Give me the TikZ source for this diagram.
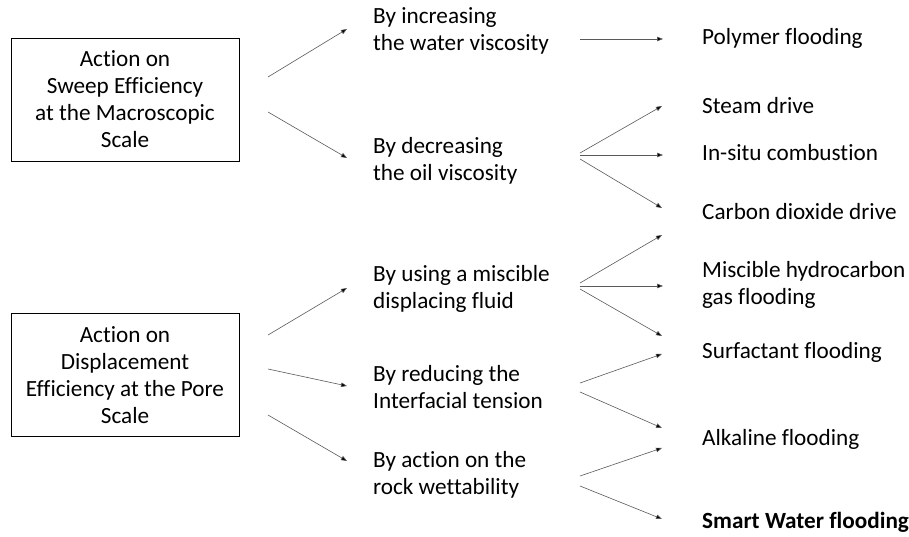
\documentclass[tikz,border=0pt]{standalone}
\usepackage{fontspec}
\setmainfont{Carlito}[Ligatures=NoCommon]
\usetikzlibrary{arrows.meta}
\tikzset{
  box/.style={draw=black, line width=0.9pt, align=center, inner sep=0pt,
    minimum width=228pt, minimum height=123pt, font=\fontsize{23.2}{27}\selectfont},
  txt/.style={anchor=base west, align=left, inner sep=0pt, font=\fontsize{23.2}{27}\selectfont},
  arr/.style={draw=black!65, line width=0.6pt, -{Triangle[length=6pt,width=4.5pt,fill=black]}}
}
\begin{document}
\begin{tikzpicture}[x=1pt,y=-1pt]
\useasboundingbox (0,0) rectangle (909,537);
% boxes
\node[box] (b1) at (125,99.5) {Action on\\Sweep Efficiency\\at the Macroscopic\\Scale};
\node[box] (b2) at (125,375) {Action on\\Displacement\\Efficiency at the Pore\\Scale};
% middle (base anchor = baseline of last line)
\node[txt] (m1) at (373,51) {By increasing\\the water viscosity};
\node[txt] (m2) at (373,181) {By decreasing\\the oil viscosity};
\node[txt] (m3) at (373,308) {By using a miscible\\displacing fluid};
\node[txt] (m4) at (373,408) {By reducing the\\Interfacial tension};
\node[txt] (m5) at (373,494) {By action on the\\rock wettability};
% right
\node[txt] (r1) at (702,45) {Polymer flooding};
\node[txt] (r2) at (702,114) {Steam drive};
\node[txt] (r3) at (702,161) {In-situ combustion};
\node[txt] (r4) at (702,220) {Carbon dioxide drive};
\node[txt] (r5) at (702,304) {Miscible hydrocarbon\\gas flooding};
\node[txt] (r6) at (702,358) {Surfactant flooding};
\node[txt] (r7) at (702,445) {Alkaline flooding};
\node[txt, font=\fontsize{23.2}{27}\selectfont\bfseries] (r8) at (702,528) {Smart Water flooding};
% arrow end points
\coordinate (b1a) at (268,77);  \coordinate (m1in) at (347,29);
\coordinate (b1b) at (268,112); \coordinate (m2in) at (347,158);
\coordinate (b2a) at (268,335); \coordinate (m3in) at (347,288);
\coordinate (b2b) at (268,369); \coordinate (m4in) at (347,386);
\coordinate (b2c) at (268,415); \coordinate (m5in) at (347,461);
\coordinate (m1o) at (580,39);  \coordinate (r1in) at (663,39);
\coordinate (m2oa) at (580,153); \coordinate (r2in) at (662,106);
\coordinate (m2ob) at (580,155); \coordinate (r3in) at (663,155);
\coordinate (m2oc) at (580,159); \coordinate (r4in) at (662,208);
\coordinate (m3oa) at (580,283); \coordinate (r5up) at (662,235);
\coordinate (m3ob) at (580,286); \coordinate (r5in) at (663,286);
\coordinate (m3oc) at (580,289); \coordinate (r6in) at (662,336);
\coordinate (m4oa) at (580,383); \coordinate (r6up) at (662,354);
\coordinate (m4ob) at (580,392); \coordinate (r7in) at (662,428);
\coordinate (m5oa) at (580,476); \coordinate (r7up) at (662,448);
\coordinate (m5ob) at (580,486); \coordinate (r8in) at (662,519);
% arrows
\draw[arr] (b1a) -- (m1in);
\draw[arr] (b1b) -- (m2in);
\draw[arr] (b2a) -- (m3in);
\draw[arr] (b2b) -- (m4in);
\draw[arr] (b2c) -- (m5in);
\draw[arr] (m1o) -- (r1in);
\draw[arr] (m2oa) -- (r2in);
\draw[arr] (m2ob) -- (r3in);
\draw[arr] (m2oc) -- (r4in);
\draw[arr] (m3oa) -- (r5up);
\draw[arr] (m3ob) -- (r5in);
\draw[arr] (m3oc) -- (r6in);
\draw[arr] (m4oa) -- (r6up);
\draw[arr] (m4ob) -- (r7in);
\draw[arr] (m5oa) -- (r7up);
\draw[arr] (m5ob) -- (r8in);
\end{tikzpicture}
\end{document}
